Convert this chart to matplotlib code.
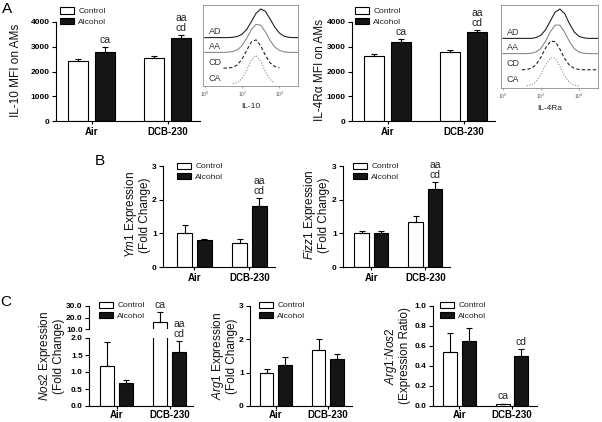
import matplotlib
matplotlib.use("Agg")
import matplotlib.pyplot as plt
import numpy as np
from matplotlib.patches import Patch

plt.rcParams['font.family'] = ['Liberation Sans', 'DejaVu Sans']
plt.rcParams['mathtext.fontset'] = 'custom'
plt.rcParams['mathtext.rm'] = 'Liberation Sans'
plt.rcParams['mathtext.it'] = 'Liberation Sans:italic'
plt.rcParams['mathtext.bf'] = 'Liberation Sans:bold'

# ---- data ----
groups = ["Air", "DCB-230"]
series = ["Control", "Alcohol"]

il10_ctrl, il10_ctrl_err = [2440, 2550], [70, 80]
il10_alc, il10_alc_err = [2800, 3360], [170, 100]
il10_marks = ["", "ca", "", "aa\ncd"]

il4ra_ctrl, il4ra_ctrl_err = [2630, 2780], [70, 90]
il4ra_alc, il4ra_alc_err = [3210, 3590], [110, 80]
il4ra_marks = ["", "ca", "", "aa\ncd"]

ym1_ctrl, ym1_ctrl_err = [1.01, 0.71], [0.25, 0.11]
ym1_alc, ym1_alc_err = [0.79, 1.82], [0.04, 0.22]
ym1_marks = ["", "", "", "aa\ncd"]

fizz1_ctrl, fizz1_ctrl_err = [1.0, 1.33], [0.06, 0.18]
fizz1_alc, fizz1_alc_err = [1.0, 2.32], [0.07, 0.2]
fizz1_marks = ["", "", "", "aa\ncd"]

nos2_ctrl, nos2_ctrl_err = [1.19, 16.0], [0.70, 8.5]
nos2_alc, nos2_alc_err = [0.68, 1.60], [0.09, 0.31]
nos2_marks = ["", "", "ca", "aa\ncd"]

arg1_ctrl, arg1_ctrl_err = [1.0, 1.68], [0.11, 0.34]
arg1_alc, arg1_alc_err = [1.24, 1.41], [0.23, 0.14]

ratio_ctrl, ratio_ctrl_err = [0.54, 0.025], [0.19, 0.0]
ratio_alc, ratio_alc_err = [0.65, 0.50], [0.13, 0.07]
ratio_marks = ["", "", "ca", "cd"]

# flow histograms (log10 fluorescence grid, height relative to peak)
nan = np.nan
hist_x = [0.0, 0.25, 0.5, 0.75, 1.0, 1.25, 1.5, 1.75, 2.0, 2.25, 2.5,
          2.75, 3.0, 3.25, 3.5, 3.75, 4.0, 4.25, 4.5, 4.75, 5.0]
il10_hist = {
    "AD": [0, 0, 0, 0, 0, 0, 0.01, 0.04, 0.12, 0.29, 0.56, 0.85, 1.0, 0.92, 0.65, 0.37, 0.16, 0.05, 0.01, 0, 0],
    "AA": [0, 0, 0, 0, 0, 0.01, 0.03, 0.09, 0.24, 0.5, 0.8, 0.98, 0.95, 0.72, 0.42, 0.19, 0.07, 0.02, 0, 0, 0],
    "CD": [nan, nan, nan, nan, 0, 0.01, 0.03, 0.12, 0.32, 0.63, 0.92, 0.99, 0.78, 0.45, 0.19, 0.06, 0.01, nan, nan, nan, nan],
    "CA": [nan, nan, nan, nan, nan, nan, 0.01, 0.05, 0.19, 0.49, 0.85, 1.0, 0.8, 0.43, 0.16, 0.04, nan, nan, nan, nan, nan],
}
il4ra_hist = {
    "AD": [0, 0, 0, 0, 0, 0, 0, 0.03, 0.11, 0.3, 0.6, 0.9, 1.0, 0.84, 0.5, 0.22, 0.07, 0.02, 0, 0, 0],
    "AA": [0, 0, 0, 0, 0, 0, 0.01, 0.06, 0.18, 0.43, 0.75, 0.97, 0.97, 0.72, 0.41, 0.17, 0.05, 0.01, 0, 0, 0],
    "CD": [nan, nan, nan, nan, 0, 0.01, 0.05, 0.18, 0.43, 0.75, 0.97, 0.96, 0.7, 0.38, 0.15, 0.05, 0.01, 0, 0, 0, 0],
    "CA": [nan, nan, nan, nan, nan, 0, 0.04, 0.15, 0.4, 0.72, 0.96, 0.95, 0.66, 0.33, 0.12, 0.03, 0, nan, nan, nan, nan],
}

# ---- layout helpers ----
W, H = 602, 422
fig = plt.figure(figsize=(W / 100, H / 100), dpi=100)
fig.patch.set_facecolor("white")


def box(l, r, t, b):
    return [l / W, 1 - b / H, (r - l) / W, (b - t) / H]


xpos = [0, 1, 2.8, 3.8]
BW = 0.74
ekw = dict(ecolor="black", elinewidth=0.8, capsize=2.5, capthick=0.8)


def draw_bars(ax, ctrl, ctrl_err, alc, alc_err):
    ax.bar([xpos[0], xpos[2]], ctrl, BW, color="white", edgecolor="black", linewidth=0.8,
           yerr=[[0, 0], ctrl_err], error_kw=ekw)
    ax.bar([xpos[1], xpos[3]], alc, BW, color="#151515", edgecolor="black", linewidth=0.8,
           yerr=[[0, 0], alc_err], error_kw=ekw)


def style(ax, xlim, ylim, yticks, fmt, xlabels=True, xpad=1.5):
    for s in ["top", "right"]:
        ax.spines[s].set_visible(False)
    for s in ["left", "bottom"]:
        ax.spines[s].set_linewidth(0.8)
    ax.set_xlim(xlim)
    ax.set_ylim(ylim)
    ax.set_yticks(yticks)
    ax.set_yticklabels([fmt % v for v in yticks], fontsize=6, fontweight="bold")
    ax.tick_params(axis="y", length=3, width=0.8, pad=1.5)
    ax.tick_params(axis="x", length=2.5, width=0.8, pad=xpad)
    if xlabels:
        ax.set_xticks([0.5, 3.3])
        ax.set_xticklabels(groups, fontsize=7, fontweight="bold")


def add_marks(ax, ctrl, ctrl_err, alc, alc_err, marks, only=None):
    tops = [ctrl[0] + ctrl_err[0], alc[0] + alc_err[0], ctrl[1] + ctrl_err[1], alc[1] + alc_err[1]]
    for i, (x, top, m) in enumerate(zip(xpos, tops, marks)):
        if not m or (only is not None and i not in only):
            continue
        ax.annotate(m, xy=(x, top), xytext=(0, 1.5), textcoords="offset points",
                    ha="center", va="bottom", fontsize=7.5, color="#222222",
                    linespacing=1.05, annotation_clip=False)


def add_legend(ax, hx, ty):
    handles = [Patch(facecolor="white", edgecolor="black", linewidth=0.8),
               Patch(facecolor="#151515", edgecolor="black", linewidth=0.8)]
    ax.legend(handles, series, loc="upper left", bbox_to_anchor=(hx / W, 1 - ty / H),
              bbox_transform=fig.transFigure, frameon=False, borderpad=0, borderaxespad=0,
              fontsize=6, handlelength=1.7, handleheight=0.75, handletextpad=0.5,
              labelspacing=0.35, labelcolor="#222222")


def ylabel(x, y, text, size=8.5):
    fig.text(x / W, 1 - y / H, text, rotation=90, ha="center", va="center",
             fontsize=size, linespacing=1.0, color="#111111")


def histogram(rect, hist, xlabel):
    ax = fig.add_axes(rect)
    base = {"CA": 2, "CD": 18, "AA": 34, "AD": 49}
    styles = {"AD": ("#222222", "-"), "AA": ("#8a8a8a", "-"),
              "CD": ("#222222", (0, (3, 2))), "CA": ("#8a8a8a", (0, (1, 1.5)))}
    for name, h in hist.items():
        c, ls = styles[name]
        ax.plot(hist_x, np.array(h) * 29 + base[name], color=c, ls=ls, lw=0.8)
        ax.text(0.2, base[name] + 1.5, name, fontsize=6.5, color="#333333",
                ha="left", va="bottom")
    ax.set_xlim(-0.1, 5.0)
    ax.set_ylim(0, 82)
    for s in ax.spines.values():
        s.set_color("#8a8a8a")
        s.set_linewidth(0.6)
    ax.set_yticks([])
    ax.set_xticks([0, 2, 4])
    ax.set_xticklabels(["$10^0$", "$10^2$", "$10^4$"], fontsize=3.5, color="#555555")
    ax.tick_params(axis="x", length=1.5, width=0.5, pad=1, color="#8a8a8a")
    ax.set_xlabel(xlabel, fontsize=6, color="#222222", labelpad=3)


# ---- panel A ----
ax = fig.add_axes(box(56, 200, 22, 121))
draw_bars(ax, il10_ctrl, il10_ctrl_err, il10_alc, il10_alc_err)
style(ax, (-0.83, 4.5), (0, 4000), [0, 1000, 2000, 3000, 4000], "%d")
add_marks(ax, il10_ctrl, il10_ctrl_err, il10_alc, il10_alc_err, il10_marks)
add_legend(ax, 60, 7.5)
ylabel(16.5, 70, "IL-10 MFI on AMs")

ax = fig.add_axes(box(352, 495, 22, 121))
draw_bars(ax, il4ra_ctrl, il4ra_ctrl_err, il4ra_alc, il4ra_alc_err)
style(ax, (-0.83, 4.46), (0, 4000), [0, 1000, 2000, 3000, 4000], "%d")
add_marks(ax, il4ra_ctrl, il4ra_ctrl_err, il4ra_alc, il4ra_alc_err, il4ra_marks)
add_legend(ax, 355, 7.5)
ylabel(320, 70, "IL-4R\u03b1 MFI on AMs")

histogram(box(203, 298, 5, 86), il10_hist, "IL-10")
histogram(box(501, 598, 5, 88), il4ra_hist, "IL-4Ra")

# ---- panel B ----
ax = fig.add_axes(box(163, 275, 166, 267))
draw_bars(ax, ym1_ctrl, ym1_ctrl_err, ym1_alc, ym1_alc_err)
style(ax, (-1.1, 4.6), (0, 3), [0, 1, 2, 3], "%d")
add_marks(ax, ym1_ctrl, ym1_ctrl_err, ym1_alc, ym1_alc_err, ym1_marks)
add_legend(ax, 177, 162.5)
ylabel(137, 215, "$\\mathit{Ym1}$ Expression\n(Fold Change)")

ax = fig.add_axes(box(343, 450, 166, 267))
draw_bars(ax, fizz1_ctrl, fizz1_ctrl_err, fizz1_alc, fizz1_alc_err)
style(ax, (-0.96, 4.58), (0, 3), [0, 1, 2, 3], "%d")
add_marks(ax, fizz1_ctrl, fizz1_ctrl_err, fizz1_alc, fizz1_alc_err, fizz1_marks)
add_legend(ax, 353, 162.5)
ylabel(316, 215, "$\\mathit{Fizz1}$ Expression\n(Fold Change)")

# ---- panel C ----
nos_lim = (-0.95, 4.52)
ax_top = fig.add_axes(box(89, 193, 306, 329))
draw_bars(ax_top, nos2_ctrl, nos2_ctrl_err, nos2_alc, nos2_alc_err)
style(ax_top, nos_lim, (10, 30), [10, 20, 30], "%.1f", xlabels=False)
ax_top.spines["bottom"].set_visible(False)
ax_top.set_xticks([])
add_marks(ax_top, nos2_ctrl, nos2_ctrl_err, nos2_alc, nos2_alc_err, nos2_marks, only=[2])
add_legend(ax_top, 99, 301.5)

ax = fig.add_axes(box(89, 193, 338, 406))
draw_bars(ax, nos2_ctrl, nos2_ctrl_err, nos2_alc, nos2_alc_err)
style(ax, nos_lim, (0, 2), [0, 0.5, 1.0, 1.5, 2.0], "%.1f", xpad=0.5)
add_marks(ax, nos2_ctrl, nos2_ctrl_err, nos2_alc, nos2_alc_err, nos2_marks, only=[3])
ylabel(51, 356, "$\\mathit{Nos2}$ Expression\n(Fold Change)")

ax = fig.add_axes(box(250, 352, 306, 406))
draw_bars(ax, arg1_ctrl, arg1_ctrl_err, arg1_alc, arg1_alc_err)
style(ax, (-0.89, 4.6), (0, 3), [0, 1, 2, 3], "%d", xpad=0.5)
add_legend(ax, 259, 301.5)
ylabel(224, 356, "$\\mathit{Arg1}$ Expression\n(Fold Change)")

ax = fig.add_axes(box(433, 537, 306, 406))
draw_bars(ax, ratio_ctrl, ratio_ctrl_err, ratio_alc, ratio_alc_err)
style(ax, (-0.9, 4.63), (0, 1), [0, 0.2, 0.4, 0.6, 0.8, 1.0], "%.1f", xpad=0.5)
add_marks(ax, ratio_ctrl, ratio_ctrl_err, ratio_alc, ratio_alc_err, ratio_marks)
add_legend(ax, 440, 301.5)
ylabel(397, 356, "$\\mathit{Arg1}$:$\\mathit{Nos2}$\n(Expression Ratio)")

# panel letters
fig.text(2 / W, 1 - 13 / H, "A", fontsize=11, va="baseline")
fig.text(95 / W, 1 - 165 / H, "B", fontsize=11, va="baseline")
fig.text(0 / W, 1 - 306 / H, "C", fontsize=11, va="baseline")

fig.savefig("out.png", dpi=100, facecolor="white")
